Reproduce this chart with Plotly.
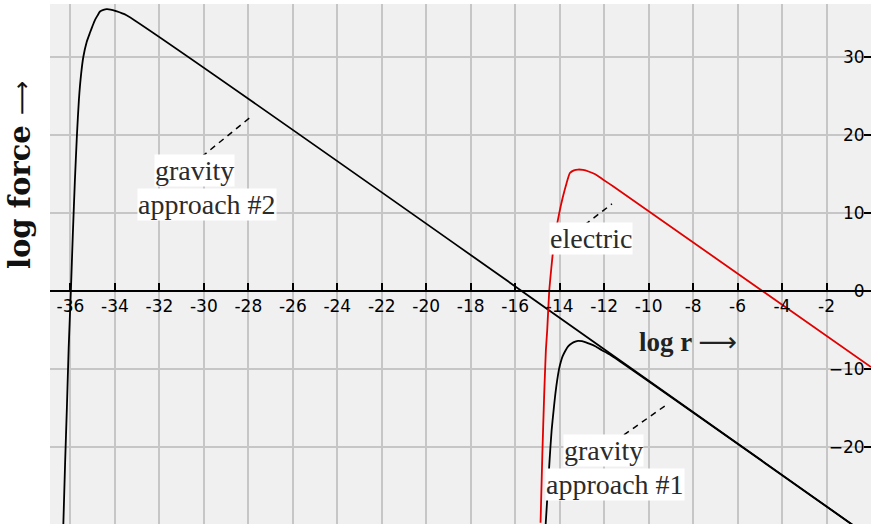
import plotly.graph_objects as go

# ---- data ----
grav2_x = [-36.32, -36.24, -36.16, -36.08, -35.98, -35.89, -35.80, -35.71, -35.62, -35.52,
           -35.42, -35.27, -35.12, -35.00, -34.90, -34.78, -34.67, -34.52, -34.37, -34.20,
           -33.95, -33.50, 0.0]
grav2_y = [-29.9, -22.0, -14.9, -7.3, 0.1, 7.5, 14.2, 19.9, 24.5, 27.8,
           30.0, 31.9, 33.1, 34.0, 34.7, 35.3, 35.8, 36.0, 36.1, 36.05,
           35.85, 35.35, -31.65]

grav1_x = [-14.63, -14.55, -14.48, -14.42, -14.36, -14.28, -14.21, -14.12, -14.02, -13.95,
           -13.87, -13.75, -13.62, -13.45, -13.30, -13.17, -13.00, -12.82, -12.64, -12.40,
           -12.10, -11.70, 0.0]
grav1_y = [-29.9, -26.2, -22.9, -20.2, -17.8, -15.5, -13.6, -11.6, -9.9, -9.1,
           -8.4, -7.7, -7.1, -6.7, -6.5, -6.4, -6.45, -6.6, -6.8, -7.1,
           -7.6, -8.25, -31.65]

elec_x = [-14.86, -14.78, -14.70, -14.62, -14.56, -14.47, -14.38, -14.29, -14.16, -14.02,
          -13.86, -13.69, -13.54, -13.36, -13.17, -12.95, -12.70, -12.40, -12.04, -11.60, 0.0]
elec_y = [-29.7, -21.0, -13.6, -7.56, -5.0, 0.0, 2.8, 5.27, 7.8, 9.96,
          12.0, 13.8, 15.1, 15.45, 15.55, 15.5, 15.3, 14.95, 14.25, 13.4, -9.75]

x_tickvals = [-36, -34, -32, -30, -28, -26, -24, -22, -20, -18, -16, -14, -12, -10, -8, -6, -4, -2]
y_tickvals = [-20, -10, 0, 10, 20, 30]
x_range = [-36.92, 0.0]
y_range = [-29.87, 36.76]

# curve labels: (text lines, centre x, centre y)
label_text = ["gravity", "approach #2", "electric", "gravity", "approach #1"]
label_x = [-30.40, -29.88, -12.57, -12.03, -11.49]
label_y = [15.38, 11.03, 6.67, -20.51, -24.87]

# dashed leader lines
leader_x0 = [-30.09, -12.87, -11.11]
leader_y0 = [17.2, 8.46, -18.46]
leader_x1 = [-27.93, -11.65, -9.27]
leader_y1 = [22.2, 11.15, -14.74]

fig = go.Figure()
fig.add_trace(go.Scatter(x=grav2_x, y=grav2_y, mode="lines",
                         line=dict(color="#000000", width=1.8, shape="spline", smoothing=0.5),
                         showlegend=False, hoverinfo="skip"))
fig.add_trace(go.Scatter(x=grav1_x, y=grav1_y, mode="lines",
                         line=dict(color="#000000", width=1.8, shape="spline", smoothing=0.5),
                         showlegend=False, hoverinfo="skip"))
fig.add_trace(go.Scatter(x=elec_x, y=elec_y, mode="lines",
                         line=dict(color="#e00000", width=1.8, shape="spline", smoothing=0.5),
                         showlegend=False, hoverinfo="skip"))

for x0, y0, x1, y1 in zip(leader_x0, leader_y0, leader_x1, leader_y1):
    fig.add_shape(type="line", xref="x", yref="y", x0=x0, y0=y0, x1=x1, y1=y1,
                  line=dict(color="#000000", width=1.5, dash="6px,5px"), layer="above")

for t, x, y in zip(label_text, label_x, label_y):
    fig.add_annotation(x=x, y=y, xref="x", yref="y", text=t, showarrow=False,
                       font=dict(family="Liberation Serif", size=28, color="#2b2b2b"),
                       bgcolor="#ffffff", borderpad=0)

fig.add_annotation(x=-8.23, y=-6.54, xref="x", yref="y",
                   text="<b>log r </b><span style='font-family:DejaVu Sans'>⟶</span>",
                   showarrow=False, xanchor="center", yanchor="middle",
                   font=dict(family="Liberation Serif", size=27, color="#222222"))
fig.add_annotation(x=-0.0365, y=0.671, xref="paper", yref="paper",
                   text="<b>log force </b><span style='font-family:DejaVu Sans;font-size:24px'>⟶</span>",
                   showarrow=False, textangle=-90, xanchor="center", yanchor="middle",
                   font=dict(family="DejaVu Serif", size=29, color="#111111"))

axis_pos = (0 - y_range[0]) / (y_range[1] - y_range[0])

fig.update_layout(
    width=871, height=524, autosize=False,
    margin=dict(l=50, r=0, t=4, b=0, autoexpand=False),
    paper_bgcolor="#ffffff", plot_bgcolor="#f0f0f0",
    xaxis=dict(range=x_range, tickvals=x_tickvals, ticktext=[str(v) for v in x_tickvals],
               anchor="free", position=axis_pos, showline=True, linecolor="#000000", linewidth=1.5,
               ticks="inside", ticklen=7, tickwidth=1.5, tickcolor="#000000", automargin=False,
               showgrid=True, gridcolor="#c6c6c6", gridwidth=1.5, zeroline=False,
               tickfont=dict(family="DejaVu Sans", size=17, color="#000000")),
    yaxis=dict(range=y_range, tickvals=y_tickvals, side="right", showline=True,
               linecolor="#000000", linewidth=1.5, ticks="inside", ticklen=7, tickwidth=1.5,
               tickcolor="#000000", ticklabelposition="inside", ticksuffix="\u2002\u2002\u2009",
               automargin=False,
               showgrid=True, gridcolor="#c6c6c6", gridwidth=1.5, zeroline=False,
               tickfont=dict(family="DejaVu Sans", size=17, color="#000000")),
)

post = ("document.documentElement.style.margin='0';document.body.style.margin='0';"
        "document.body.style.padding='0';document.body.style.overflow='hidden';"
        "var gd=document.getElementById('{plot_id}');"
        "Plotly.relayout(gd,{width:871,height:524});")

fig.write_html("out.html", config={"responsive": False, "displayModeBar": False},
               post_script=post)
